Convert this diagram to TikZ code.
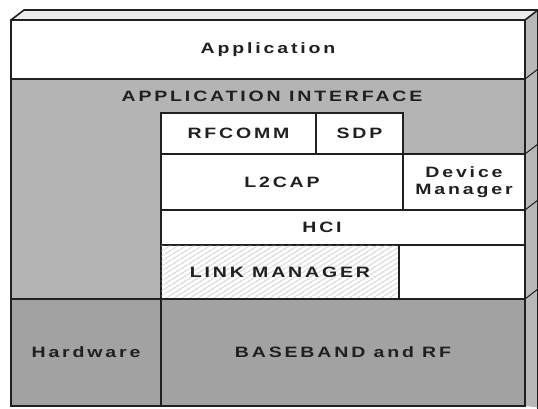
\documentclass[tikz,border=0pt]{standalone}
\usepackage{fontspec}
\newfontfamily\layerfont[FakeStretch=1.3,LetterSpace=19]{Liberation Sans}
\usetikzlibrary{calc,patterns.meta}

\definecolor{ink}{HTML}{202020}
\definecolor{midgrey}{HTML}{B4B4B4}
\definecolor{darkgrey}{HTML}{A2A2A2}
\definecolor{sidegrey}{HTML}{B8B8B8}
\definecolor{topgrey}{HTML}{ECECEC}

\tikzset{
  edge/.style={draw=ink, line width=1.6pt},
  plate/.style={edge, fill=white, anchor=north west, inner sep=0pt, outer sep=0pt},
  tag/.style={font=\layerfont\bfseries\fontsize{15}{17}\selectfont, text=ink, inner sep=0pt},
  tick/.style={draw=ink, line width=1pt},
}

\begin{document}
\begin{tikzpicture}[x=1pt, y=-1pt]
  \useasboundingbox (0,0) rectangle (538,409);
  \fill[white] (0,0) rectangle (538,409);

  % protocol layers, front face of the stack
  \node[plate, minimum width=514, minimum height=59, tag] (app) at (11,20) {Application};
  \node[plate, fill=midgrey, minimum width=514, minimum height=220] (api) at (11,79) {};
  \node[tag] (apitext) at (272,96) {APPLICATION INTERFACE};
  \node[plate, minimum width=155, minimum height=41, tag] (rfcomm) at (161,113) {RFCOMM};
  \node[plate, minimum width=87, minimum height=41, tag] (sdp) at (316,113) {SDP};
  \node[plate, minimum width=242, minimum height=56, tag] (l2cap) at (161,154) {L2CAP};
  \node[plate, minimum width=122, minimum height=56, tag, align=center] (devmgr) at (403,154) {Device\\Manager};
  \node[plate, minimum width=364, minimum height=35] (hci) at (161,210) {};
  \node[tag] (hcitext) at (322,227) {HCI};
  \node[plate, minimum width=238, minimum height=54,
        postaction={pattern={Lines[angle=32,distance=4pt,line width=0.6pt]}, pattern color=gray!70}]
        (lm) at (161,245) {};
  \node[tag] (lmtext) at (lm.center) {LINK MANAGER};
  \node[plate, minimum width=126, minimum height=54] (gap) at (399,245) {};
  \node[plate, fill=darkgrey, minimum width=150, minimum height=107, tag] (hw) at (11,299) {Hardware};
  \node[plate, fill=darkgrey, minimum width=364, minimum height=107, tag] (bb) at (161,299) {BASEBAND and RF};

  % top and right faces of the block
  \coordinate (tl) at (app.north west);
  \coordinate (tr) at (app.north east);
  \fill[topgrey] (tl) -- ($(tl)+(13,-10)$) -- ($(tr)+(13,-10)$) -- (tr) -- cycle;
  \fill[sidegrey] (tr) -- ($(tr)+(13,-10)$) -- (551,409) -- (bb.south east) -- cycle;
  \draw[edge] (tl) -- ($(tl)+(13,-10)$) -- ($(tr)+(13,-10)$) -- (tr);
  \draw[edge, line width=1.2pt] ($(tr)+(13,-10)$) -- ++(0,400);

  % layer edges seen on the side face
  \draw[tick] (api.north east) -- ++(13,-10);
  \draw[tick] (devmgr.north east) -- ++(13,-10);
  \draw[tick] (devmgr.south east) -- ++(13,-10);
  \draw[tick] (gap.south east) -- ++(13,-10);

  % outline of the front face
  \draw[edge] (app.north west) rectangle (bb.south east);
\end{tikzpicture}
\end{document}
